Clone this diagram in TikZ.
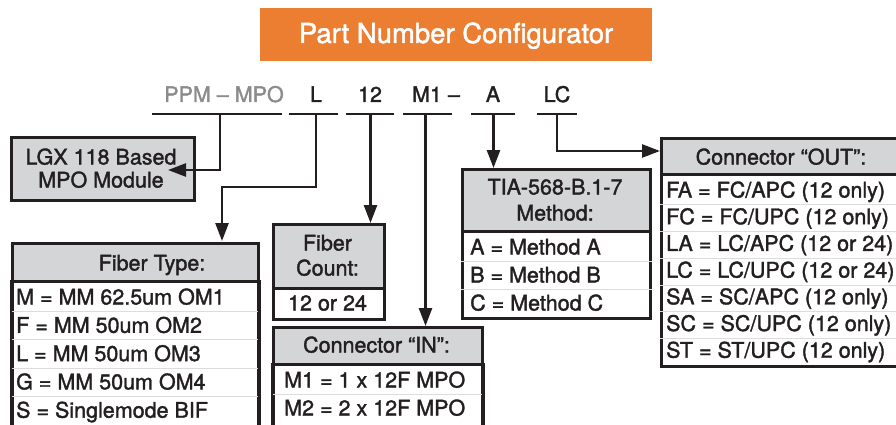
\documentclass[tikz,border=0pt]{standalone}
\usepackage{fontspec}
\setmainfont{TeX Gyre Heros}[RawFeature={embolden=1.6}]
\usetikzlibrary{arrows.meta}
\definecolor{orng}{HTML}{EC7E32}
\definecolor{hdrgray}{HTML}{D4D5D7}
\definecolor{ink}{HTML}{231F20}
\definecolor{codegray}{HTML}{8A8B8D}
\definecolor{sepgray}{HTML}{DCDCDC}
\begin{document}
\begin{tikzpicture}[x=1pt,y=-1pt,
  txt/.style={font=\fontsize{21.5}{25}\selectfont, text=ink, inner sep=0pt},
  ctxt/.style={txt, anchor=base},
  rtxt/.style={txt, anchor=base west},
  box/.style={draw=ink, line width=2.6pt, inner sep=0pt, anchor=north west},
  hdr/.style={box, fill=hdrgray},
  body/.style={box, fill=white},
  conn/.style={draw=ink, line width=2.6pt},
  arr/.style={conn, -{Triangle[length=18pt,width=13pt]}},
  uline/.style={draw=ink, line width=2.4pt},
  sep/.style={draw=sepgray, line width=0.6pt},
]
\useasboundingbox (0,0) rectangle (896,425);

% title
\node[fill=orng, minimum width=392pt, minimum height=53pt, inner sep=0pt] (title) at (456,34.5) {};
\node[txt, anchor=base, text=white, font=\fontsize{27.5}{30}\selectfont] (titletext) at (456,43) {Part Number Configurator};

% code labels
\node[ctxt, text=codegray] (cPPM) at (224,102) {PPM – MPO};
\node[ctxt] (cL) at (316,102) {L};
\node[ctxt] (c12) at (370,102) {12};
\node[ctxt] (cM1) at (436,102) {M1 –};
\node[ctxt] (cA) at (493,102) {A};
\node[ctxt] (cLC) at (557,102) {LC};

% underlines
\coordinate (uPPMa) at (152,114); \coordinate (uPPMb) at (282,114);
\coordinate (uLa) at (289,114); \coordinate (uLb) at (338,114);
\coordinate (u12a) at (346,114); \coordinate (u12b) at (394,114);
\coordinate (uM1a) at (403,114); \coordinate (uM1b) at (452,114);
\coordinate (uAa) at (471,114); \coordinate (uAb) at (515,114);
\coordinate (uLCa) at (537,114); \coordinate (uLCb) at (577,114);
\draw[uline] (uPPMa) -- (uPPMb);
\draw[uline] (uLa) -- (uLb);
\draw[uline] (u12a) -- (u12b);
\draw[uline] (uM1a) -- (uM1b);
\draw[uline] (uAa) -- (uAb);
\draw[uline] (uLCa) -- (uLCb);

% LGX box
\node[hdr, minimum width=183pt, minimum height=63pt] (lgx) at (10,136) {};
\node[ctxt] (lgx1) at (101,164.5) {LGX 118 Based};
\node[ctxt] (lgx2) at (101,187.5) {MPO Module};

% Fiber type box
\node[body, minimum width=246pt, minimum height=170pt] (ftB) at (11,280) {};
\node[hdr, minimum width=246pt, minimum height=38pt] (ftH) at (11,242) {};
\node[ctxt] (ftT) at (152,270.5) {Fiber Type:};
\draw[sep] (ftB.west |- 0,311) -- (ftB.east |- 0,311);
\draw[sep] (ftB.west |- 0,339.5) -- (ftB.east |- 0,339.5);
\draw[sep] (ftB.west |- 0,368) -- (ftB.east |- 0,368);
\draw[sep] (ftB.west |- 0,396) -- (ftB.east |- 0,396);
\draw[draw=ink, line width=2.6pt] (ftB.north west) -- (ftB.south west);
\draw[draw=ink, line width=2.6pt] (ftB.north east) -- (ftB.south east);
\node[rtxt] (ft1) at (16,304.5) {M = MM 62.5um OM1};
\node[rtxt] (ft2) at (16,332.8) {F = MM 50um OM2};
\node[rtxt] (ft3) at (16,361.1) {L = MM 50um OM3};
\node[rtxt] (ft4) at (16,389.4) {G = MM 50um OM4};
\node[rtxt] (ft5) at (16,417.7) {S = Singlemode BIF};

% Fiber count box
\node[body, minimum width=111pt, minimum height=31pt] (fcB) at (272,287) {};
\node[hdr, minimum width=111pt, minimum height=64pt] (fcH) at (272,223) {};
\node[ctxt] (fc1) at (327.5,250.5) {Fiber};
\node[ctxt] (fc2) at (327.5,275.5) {Count:};
\node[ctxt] (fc3) at (327.5,310.5) {12 or 24};

% Connector IN box
\node[body, minimum width=209pt, minimum height=90pt] (ciB) at (272,363) {};
\node[hdr, minimum width=209pt, minimum height=37pt] (ciH) at (272,326) {};
\node[ctxt] (ciT) at (376.5,352.5) {Connector “IN”:};
\draw[sep] (ciB.west |- 0,394) -- (ciB.east |- 0,394);
\draw[draw=ink, line width=2.6pt] (ciB.north west) -- (ciB.south west);
\draw[draw=ink, line width=2.6pt] (ciB.north east) -- (ciB.south east);
\node[rtxt] (ci1) at (284,387.5) {M1 = 1 x 12F MPO};
\node[rtxt] (ci2) at (284,415.5) {M2 = 2 x 12F MPO};

% TIA box
\node[body, minimum width=188pt, minimum height=87pt] (tiaB) at (461,230) {};
\node[hdr, minimum width=188pt, minimum height=62pt] (tiaH) at (461,168) {};
\node[ctxt] (tia1) at (555,194.5) {TIA-568-B.1-7};
\node[ctxt] (tia2) at (555,220.5) {Method:};
\draw[sep] (tiaB.west |- 0,261) -- (tiaB.east |- 0,261);
\draw[sep] (tiaB.west |- 0,289) -- (tiaB.east |- 0,289);
\node[rtxt] (tiaA) at (470,254.5) {A = Method A};
\node[rtxt] (tiaBm) at (470,282.5) {B = Method B};
\node[rtxt] (tiaC) at (470,310.5) {C = Method C};

% Connector OUT box
\node[body, minimum width=245pt, minimum height=192pt] (outB) at (660,173) {};
\node[hdr, minimum width=245pt, minimum height=36pt] (outH) at (660,137) {};
\node[ctxt] (outT) at (781,164.5) {Connector “OUT”:};
\draw[sep] (outB.west |- 0,204) -- (outB.east |- 0,204);
\draw[sep] (outB.west |- 0,231) -- (outB.east |- 0,231);
\draw[sep] (outB.west |- 0,258) -- (outB.east |- 0,258);
\draw[sep] (outB.west |- 0,285) -- (outB.east |- 0,285);
\draw[sep] (outB.west |- 0,311) -- (outB.east |- 0,311);
\draw[sep] (outB.west |- 0,338) -- (outB.east |- 0,338);
\node[rtxt] (o1) at (666,197.5) {FA = FC/APC (12 only)};
\node[rtxt] (o2) at (666,224.2) {FC = FC/UPC (12 only)};
\node[rtxt] (o3) at (666,250.9) {LA = LC/APC (12 or 24)};
\node[rtxt] (o4) at (666,277.6) {LC = LC/UPC (12 or 24)};
\node[rtxt] (o5) at (666,304.3) {SA = SC/APC (12 only)};
\node[rtxt] (o6) at (666,331) {SC = SC/UPC (12 only)};
\node[rtxt] (o7) at (666,357.7) {ST = ST/UPC (12 only)};

% connectors
\coordinate (dPPM) at (220,114);
\coordinate (lgxIn) at (168,170);
\draw[arr] (dPPM) |- (lgxIn);

\coordinate (dL) at (316,114);
\coordinate (bL) at (316,187);
\coordinate (ftIn) at (222,241);
\draw[arr] (dL) -- (bL) -| (ftIn);

\coordinate (d12) at (370.5,114);
\draw[arr] (d12) -- (d12 |- fcH.north);

\coordinate (dM1) at (425.5,114);
\draw[arr] (dM1) -- (dM1 |- ciH.north);

\coordinate (dA) at (493.5,114);
\draw[arr] (dA) -- (dA |- tiaH.north);

\coordinate (dLC) at (557,114);
\coordinate (outIn) at (660,151);
\draw[arr] (dLC) |- (outIn);
\end{tikzpicture}
\end{document}
